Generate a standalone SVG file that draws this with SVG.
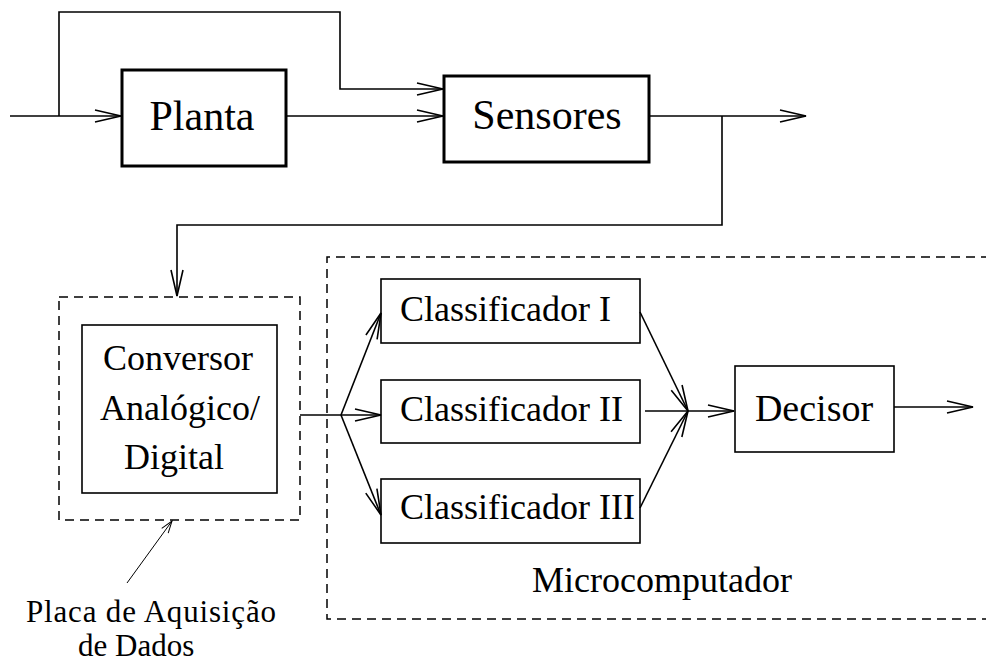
<svg xmlns="http://www.w3.org/2000/svg" width="986" height="664" viewBox="0 0 986 664">
  <style>
    text { font-family: "Liberation Serif", "Times New Roman", serif; fill: #000; }
    .big { font-size: 42px; }
    .mid { font-size: 36px; }
    .small { font-size: 31px; }
    .thick { fill: #fff; stroke: #000; stroke-width: 3; }
    .thin { fill: #fff; stroke: #000; stroke-width: 1.6; }
    .dash { fill: none; stroke: #000; stroke-width: 1.5; stroke-dasharray: 9 6; }
    .wire { fill: none; stroke: #000; stroke-width: 1.6; }
    .leader { fill: none; stroke: #000; stroke-width: 1; }
  </style>
  <defs>
    <marker id="arrow" markerUnits="userSpaceOnUse" markerWidth="30" markerHeight="16" viewBox="-28 -8 30 16" refX="0" refY="0" orient="auto">
      <path d="M-26,-6 L0,0 L-26,6" fill="none" stroke="#000" stroke-width="1.6"/>
    </marker>
    <marker id="arrowSmall" markerUnits="userSpaceOnUse" markerWidth="16" markerHeight="10" viewBox="-14 -5 16 10" refX="0" refY="0" orient="auto">
      <path d="M-12,-4 L0,0 L-12,4" fill="none" stroke="#000" stroke-width="1"/>
    </marker>
  </defs>

  <rect width="986" height="664" fill="#fff"/>

  <!-- dashed enclosures -->
  <g id="placa">
    <rect class="dash" x="59" y="297" width="241" height="223"/>
    <text class="small" x="26" y="622" textLength="250">Placa de Aquisição</text>
    <text class="small" x="78" y="656">de Dados</text>
  </g>
  <g id="microcomputador">
    <path class="dash" d="M990,257 H327 V619 H990"/>
    <text class="mid" x="532" y="592">Microcomputador</text>
  </g>

  <!-- blocks -->
  <g id="planta">
    <rect class="thick" x="122" y="70" width="164" height="96"/>
    <text class="big" x="202" y="130" text-anchor="middle">Planta</text>
  </g>
  <g id="sensores">
    <rect class="thick" x="444" y="76" width="205" height="86"/>
    <text class="big" x="547" y="129" text-anchor="middle">Sensores</text>
  </g>
  <g id="conversor">
    <rect class="thin" x="82" y="325" width="195" height="168"/>
    <text class="mid" x="178" y="370" text-anchor="middle">Conversor</text>
    <text class="mid" x="180" y="420" text-anchor="middle">Analógico/</text>
    <text class="mid" x="174" y="469" text-anchor="middle">Digital</text>
  </g>
  <g id="classificador1">
    <rect class="thin" x="381" y="279" width="259" height="64"/>
    <text class="mid" x="400" y="321">Classificador I</text>
  </g>
  <g id="classificador2">
    <rect class="thin" x="381" y="380" width="259" height="63"/>
    <text class="mid" x="400" y="421">Classificador II</text>
  </g>
  <g id="classificador3">
    <rect class="thin" x="381" y="479" width="259" height="64"/>
    <text class="mid" x="400" y="519">Classificador III</text>
  </g>
  <g id="decisor">
    <rect class="thin" x="735" y="366" width="159" height="86"/>
    <text class="mid" x="814" y="421" text-anchor="middle" style="font-size:38px">Decisor</text>
  </g>

  <!-- connectors -->
  <g id="connectors">
    <path class="wire" d="M10,116 H121" marker-end="url(#arrow)"/>
    <path class="wire" d="M59,116 V12 H340 V89 H443" marker-end="url(#arrow)"/>
    <path class="wire" d="M286,116 H443" marker-end="url(#arrow)"/>
    <path class="wire" d="M649,116 H806" marker-end="url(#arrow)"/>
    <path class="wire" d="M722,116 V225 H177 V296" marker-end="url(#arrow)"/>
    <path class="wire" d="M300,415 H341"/>
    <path class="wire" d="M341,415 L381,313" marker-end="url(#arrow)"/>
    <path class="wire" d="M341,415 H381" marker-end="url(#arrow)"/>
    <path class="wire" d="M341,415 L381,515" marker-end="url(#arrow)"/>
    <path class="wire" d="M640,312 L688,411" marker-end="url(#arrow)"/>
    <path class="wire" d="M645,411 H688"/>
    <path class="wire" d="M640,508 L688,411" marker-end="url(#arrow)"/>
    <path class="wire" d="M688,411 H734" marker-end="url(#arrow)"/>
    <path class="wire" d="M894,407 H973" marker-end="url(#arrow)"/>
    <path class="leader" d="M127,583 L172,521" marker-end="url(#arrowSmall)"/>
  </g>
</svg>
